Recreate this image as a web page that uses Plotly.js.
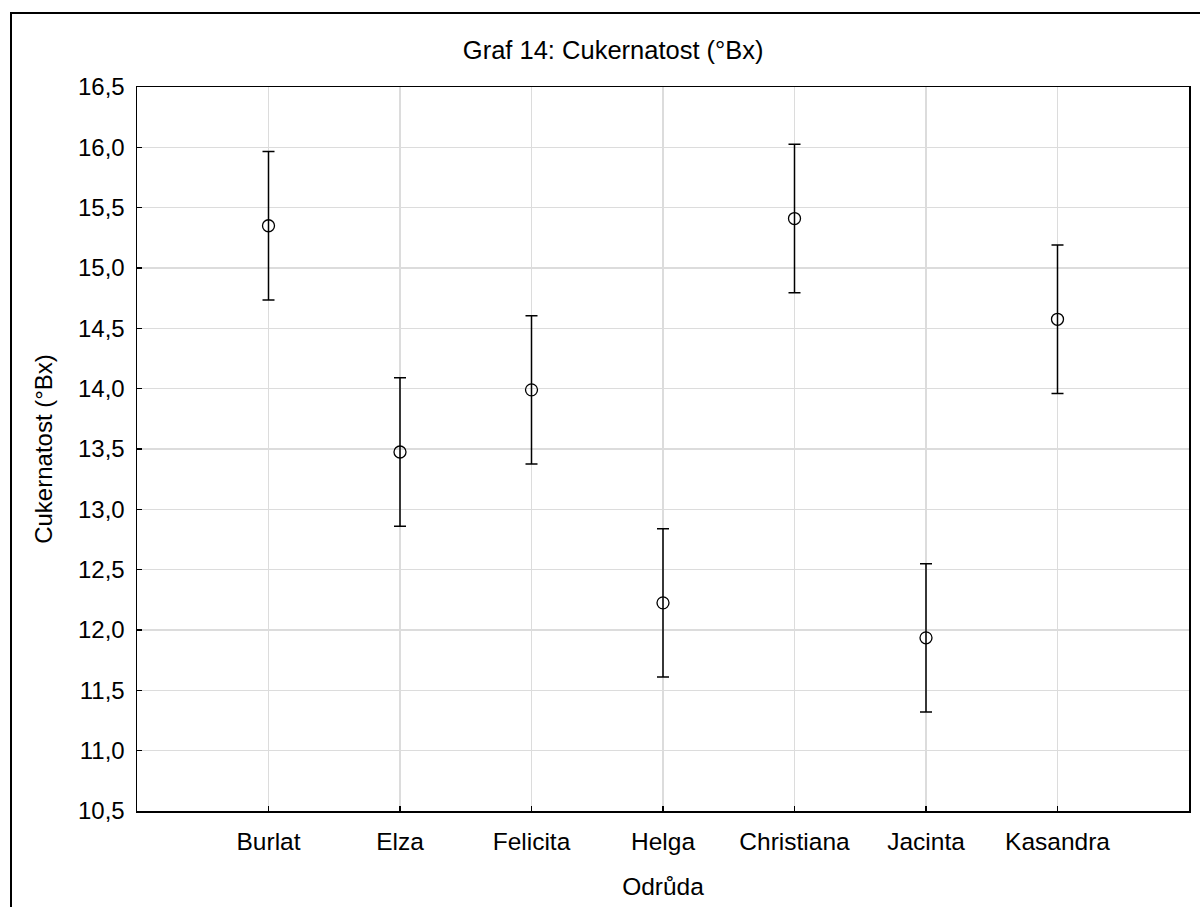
<!DOCTYPE html>
<html>
<head>
<meta charset="utf-8">
<script src="https://cdn.plot.ly/plotly-3.0.1.min.js"></script>
<style>
  html, body { margin: 0; padding: 0; background: #fff; }
  #wrap { position: relative; width: 1200px; height: 907px; overflow: hidden; }
  #chart { position: absolute; left: 0; top: 0; width: 1200px; height: 907px; }
  #frame { position: absolute; left: 10px; top: 12px; width: 1300px; height: 1000px;
           border-left: 2px solid #000; border-top: 2px solid #000; pointer-events: none; }
</style>
</head>
<body>
<div id="wrap">
  <div id="chart"></div>
  <div id="frame"></div>
</div>
<script>
const categories = ["Burlat", "Elza", "Felicita", "Helga", "Christiana", "Jacinta", "Kasandra"];
const means = [15.35, 13.475, 13.99, 12.225, 15.41, 11.935, 14.575];
const errors = [0.615, 0.615, 0.615, 0.615, 0.615, 0.615, 0.615];
const yTicks = [10.5, 11.0, 11.5, 12.0, 12.5, 13.0, 13.5, 14.0, 14.5, 15.0, 15.5, 16.0, 16.5];

const font = "Liberation Sans, Arial, sans-serif";

const trace = {
  type: "scatter",
  mode: "markers",
  x: categories,
  y: means,
  marker: { symbol: "circle-open", size: 12, color: "#000", line: { width: 1.3, color: "#000" } },
  error_y: { type: "data", array: errors, visible: true, color: "#000", thickness: 1.5, width: 6 },
  showlegend: false,
  hoverinfo: "x+y"
};

const layout = {
  width: 1200,
  height: 907,
  margin: { l: 137, r: 11, t: 87, b: 96 },
  paper_bgcolor: "rgba(0,0,0,0)",
  plot_bgcolor: "#fff",
  separators: ",.",
  font: { family: font, color: "#000", size: 24 },
  title: { text: "Graf 14: Cukernatost (°Bx)", font: { family: font, size: 25.5, color: "#000" },
           x: 0.511, xanchor: "center", y: 0.945, yanchor: "middle" },
  xaxis: {
    type: "category",
    range: [-1, 7],
    showgrid: true, gridcolor: "#dcdcdc", gridwidth: 1.5,
    showline: true, linecolor: "#000", linewidth: 1.5, mirror: true,
    ticks: "inside", ticklen: 5, tickcolor: "#000", tickwidth: 1.2,
    tickfont: { family: font, size: 24.5, color: "#000" },
    ticklabelstandoff: 8,
    zeroline: false,
    title: { text: "Odrůda", font: { family: font, size: 24.5, color: "#000" }, standoff: 24 }
  },
  yaxis: {
    range: [10.5, 16.5],
    tickvals: yTicks,
    tickformat: ".1f",
    showgrid: true, gridcolor: "#dcdcdc", gridwidth: 1.5,
    showline: true, linecolor: "#000", linewidth: 1.5, mirror: true,
    ticks: "inside", ticklen: 5, tickcolor: "#000", tickwidth: 1.2,
    tickfont: { family: font, size: 24, color: "#000" },
    ticklabelstandoff: 6,
    zeroline: false,
    title: { text: "Cukernatost (°Bx)", font: { family: font, size: 24, color: "#000" }, standoff: 18 }
  }
};

Plotly.newPlot("chart", [trace], layout, { displayModeBar: false, staticPlot: true });
</script>
</body>
</html>
